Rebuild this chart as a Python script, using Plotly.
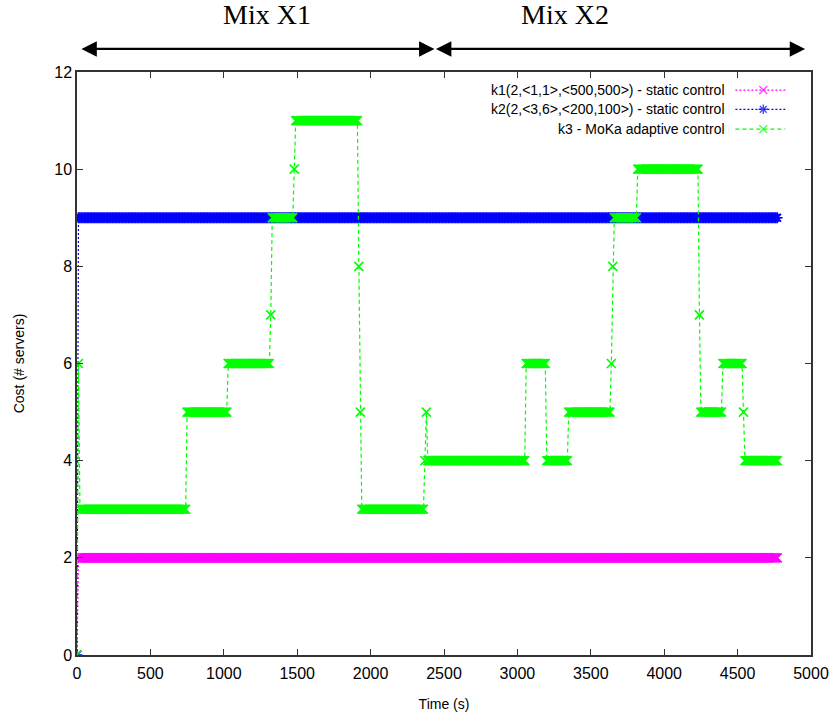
import numpy as np
import plotly.graph_objects as go

# ---- data -------------------------------------------------------------
SAMPLE_PERIOD = 10          # seconds between samples
END_TIME = 4770             # last sample (s)

# k1 / k2: static configurations (0 at start-up, then constant)
k1_change_times = [0, 10]
k1_levels = [0, 2]
k2_change_times = [0, 10]
k2_levels = [0, 9]

# k3: MoKa adaptive control, level held from each change time onward
k3_change_times = [0, 10, 20, 750, 1030, 1320, 1330, 1480, 1490, 1920, 1930,
                   1940, 2370, 2380, 2390, 3060, 3200, 3350, 3640, 3650, 3660,
                   3820, 4240, 4250, 4400, 4540, 4550]
k3_levels = [0, 6, 3, 5, 6, 7, 9, 10, 11, 8, 5,
             3, 4, 5, 4, 6, 4, 5, 6, 8, 9,
             10, 7, 5, 6, 5, 4]

x_ticks = [0, 500, 1000, 1500, 2000, 2500, 3000, 3500, 4000, 4500, 5000]
y_ticks = [0, 2, 4, 6, 8, 10, 12]

phase_labels = ["Mix X1", "Mix X2"]
phase_label_x = [1295, 3325]
phase_bounds = [20, 2435, 4960]

series_names = ["k1(2,<1,1>,<500,500>) - static control",
                "k2(2,<3,6>,<200,100>) - static control",
                "k3 - MoKa adaptive control"]
series_colors = ["#ff00ff", "#0000ff", "#00ff00"]


def sampled(change_times, levels):
    t = np.arange(0, END_TIME + 1, SAMPLE_PERIOD)
    idx = np.searchsorted(np.array(change_times), t, side="right") - 1
    return t, np.array(levels)[idx]


styles = [
    dict(dash="2px,2px", symbol="x-thin", size=9),
    dict(dash="2px,2px", symbol="asterisk", size=9),
    dict(dash="4px,3px", symbol="x-thin", size=9),
]

fig = go.Figure()
for (ct, lv), name, col, st in zip(
        [(k1_change_times, k1_levels), (k2_change_times, k2_levels),
         (k3_change_times, k3_levels)],
        series_names, series_colors, styles):
    t, v = sampled(ct, lv)
    fig.add_trace(go.Scatter(
        x=t, y=v, mode="lines+markers", name=name, showlegend=False,
        line=dict(color=col, width=1.2, dash=st["dash"]),
        marker=dict(symbol=st["symbol"], size=st["size"], color=col,
                    line=dict(color=col, width=1.6)),
        xaxis="x", yaxis="y"))

# ---- key (text on the left, sample on the right) ---------------------
key_rows = [0.969, 0.936, 0.902]
for name, col, st, yr in zip(series_names, series_colors, styles, key_rows):
    fig.add_trace(go.Scatter(
        x=[0.897, 0.935, 0.965], y=[yr, yr, yr], mode="lines+markers",
        showlegend=False, hoverinfo="skip",
        line=dict(color=col, width=1.2, dash=st["dash"]),
        marker=dict(symbol=st["symbol"], size=[0, 8, 0], color=col,
                    line=dict(color=col, width=1.4)),
        xaxis="x2", yaxis="y2"))
    fig.add_annotation(xref="paper", yref="paper", x=0.886, y=yr,
                       text=name, showarrow=False, xanchor="right",
                       yanchor="middle",
                       font=dict(family="Liberation Sans", size=14,
                                 color="#000"))

# ---- phase arrows and labels ----------------------------------------
for i, lab in enumerate(phase_labels):
    a, b = phase_bounds[i], phase_bounds[i + 1]
    fig.add_annotation(xref="x", yref="paper", x=b, y=1.0395,
                       axref="x", ayref="pixel", ax=a, ay=0,
                       text="", showarrow=True, arrowside="end+start",
                       arrowhead=2, arrowsize=1.4, arrowwidth=2.2,
                       arrowcolor="#000", standoff=0, startstandoff=0)
    fig.add_annotation(xref="x", yref="paper", x=phase_label_x[i], y=1.098,
                       text=lab, showarrow=False, yanchor="middle",
                       font=dict(family="Liberation Serif", size=28,
                                 color="#000"))

axis_common = dict(showgrid=False, zeroline=False, showline=True,
                   linecolor="#333", linewidth=1.5, mirror="ticks",
                   ticks="inside", ticklen=6, tickwidth=1.2, tickcolor="#333",
                   automargin=False,
                   tickfont=dict(family="Liberation Sans", size=16,
                                 color="#000"))

fig.update_layout(
    width=829, height=717,
    margin=dict(l=77, r=18, t=72, b=62),
    paper_bgcolor="white", plot_bgcolor="white",
    showlegend=False,
    xaxis=dict(range=[0, 5000], tickvals=x_ticks, ticklabelstandoff=3,
               title=dict(text="Time (s)", standoff=18,
                          font=dict(family="Liberation Sans", size=14,
                                    color="#000")),
               **axis_common),
    yaxis=dict(range=[0, 12], tickvals=y_ticks,
               title=dict(text="Cost (# servers)", standoff=26,
                          font=dict(family="Liberation Sans", size=14,
                                    color="#000")),
               **axis_common),
    xaxis2=dict(range=[0, 1], overlaying="x", visible=False, fixedrange=True),
    yaxis2=dict(range=[0, 1], overlaying="y", visible=False, fixedrange=True),
)

fig.write_html("out.html")
